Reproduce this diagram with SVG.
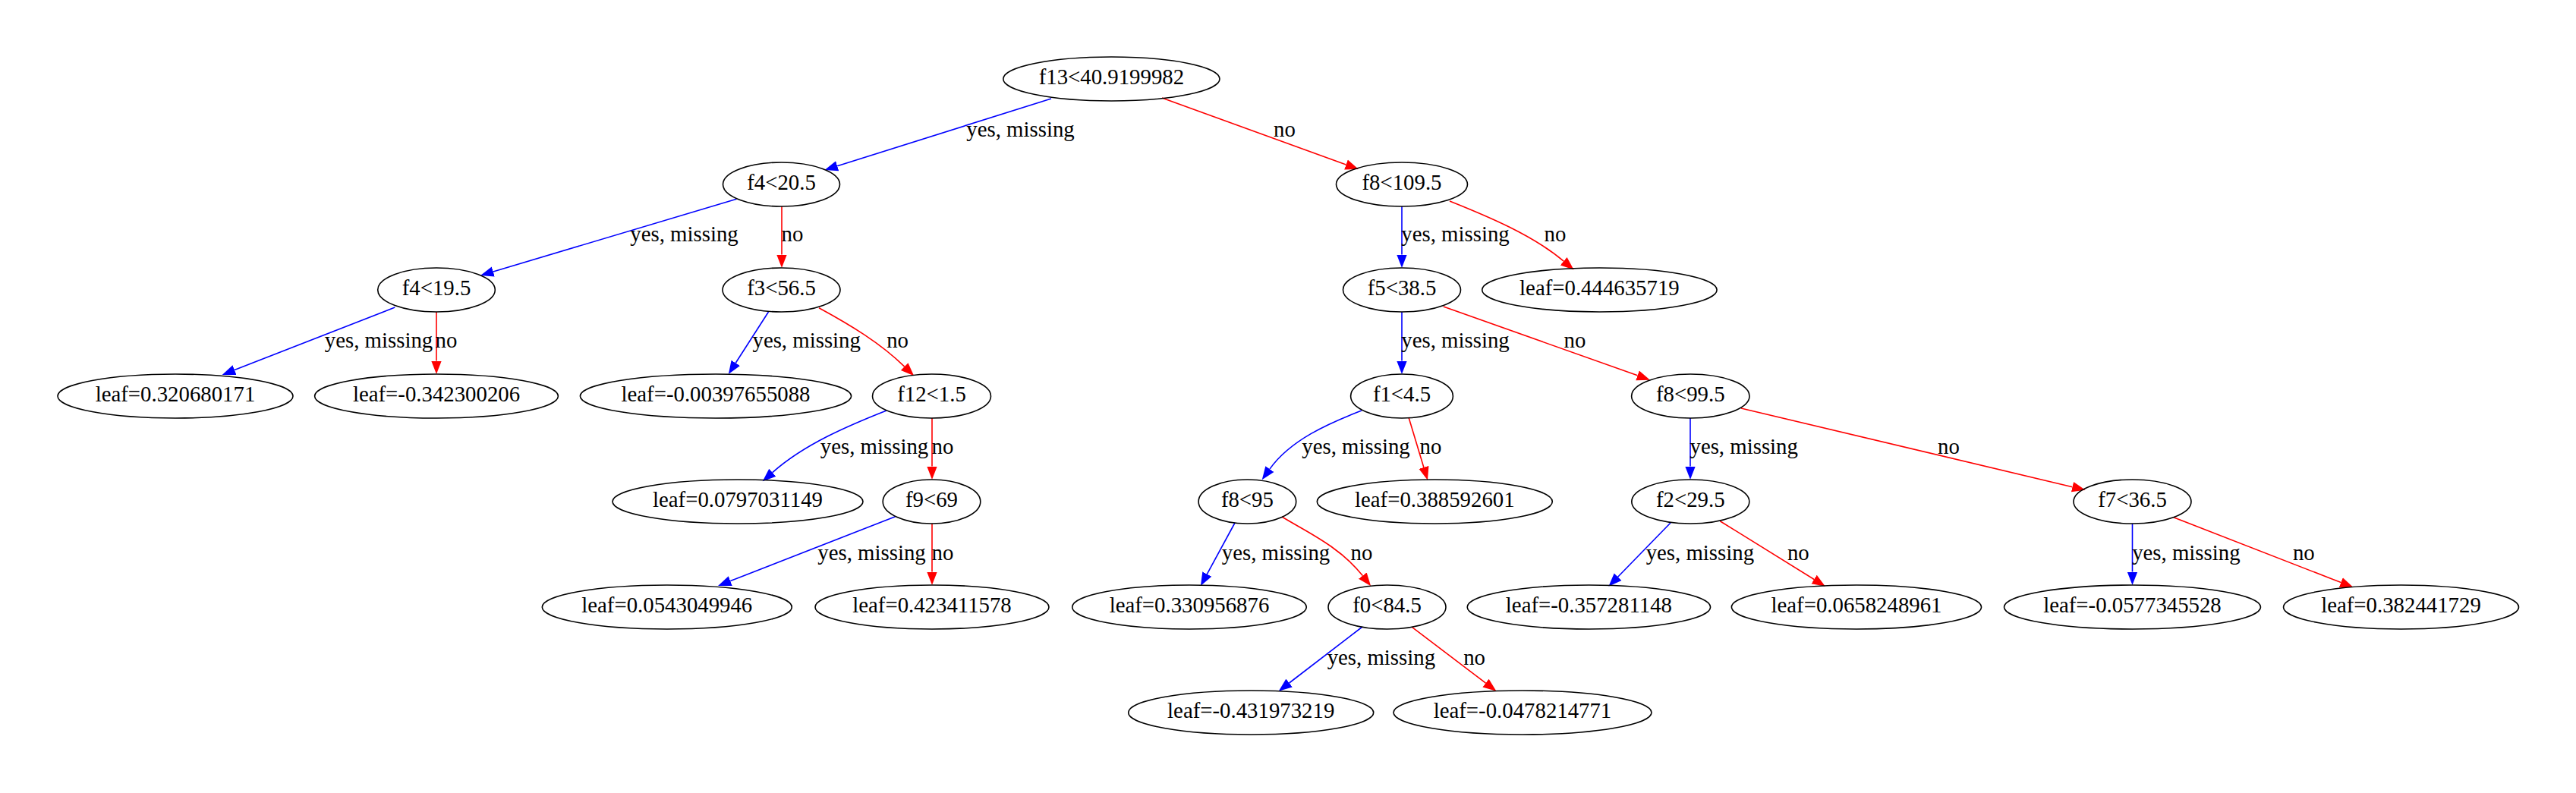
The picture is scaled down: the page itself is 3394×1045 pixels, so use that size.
<svg xmlns="http://www.w3.org/2000/svg" width="3394" height="1045" viewBox="0 0 3394 1045">
<style>
.node ellipse{fill:none;stroke:#000;stroke-width:1.6}
text{font-family:"Liberation Serif","Times New Roman",serif;font-size:28.8px;text-anchor:middle;fill:#000}
.edges path{fill:none;stroke-width:1.6}
.edges .y{stroke:#0000ff;marker-end:url(#ab)}
.edges .n{stroke:#ff0000;marker-end:url(#ar)}
</style>
<defs>
<marker id="ab" markerUnits="userSpaceOnUse" markerWidth="20" markerHeight="16" viewBox="0 -8 20 16" refX="0" refY="0" orient="auto"><path d="M0,-6.8 L17.5,0 L0,6.8 z" fill="#0000ff"/></marker>
<marker id="ar" markerUnits="userSpaceOnUse" markerWidth="20" markerHeight="16" viewBox="0 -8 20 16" refX="0" refY="0" orient="auto"><path d="M0,-6.8 L17.5,0 L0,6.8 z" fill="#ff0000"/></marker>
</defs>
<rect width="3394" height="1045" fill="#fff"/>
<g class="edges">
<path class="y" d="M1385,130 L1103.2,218.7"/>
<path class="n" d="M1531,129 L1773.5,217"/>
<path class="y" d="M970.5,262.3 L649.8,358"/>
<path class="n" d="M1030,272 L1030,335.5"/>
<path class="y" d="M1847,272 L1847,335.5"/>
<path class="n" d="M1910,265 C1960,285 2020,310 2060.2,344.2"/>
<path class="y" d="M520.3,405 L309,487.6"/>
<path class="n" d="M575,411 L575,475.5"/>
<path class="y" d="M1012.5,411 L969.3,478.3"/>
<path class="n" d="M1079,405.7 C1120,428 1160,452 1191.7,483.1"/>
<path class="y" d="M1847,411 L1847,475.5"/>
<path class="n" d="M1901.8,404 L2157.5,494.8"/>
<path class="y" d="M1168,541 C1120,560 1060,585 1017.8,622.7"/>
<path class="n" d="M1228,551 L1228,614.5"/>
<path class="y" d="M1794,541 C1750,558 1700,580 1672.9,618.1"/>
<path class="n" d="M1856,550 L1875.9,615.9"/>
<path class="y" d="M2227,551 L2227,614.5"/>
<path class="n" d="M2294,538 L2730.5,641.7"/>
<path class="y" d="M1179.6,680.7 L962.3,765.6"/>
<path class="n" d="M1228,690 L1228,753.5"/>
<path class="y" d="M1627,689 L1590.3,756.6"/>
<path class="n" d="M1689,681 C1720,700 1765,720 1795.3,758.6"/>
<path class="y" d="M2201,689 L2131.6,760.2"/>
<path class="n" d="M2266.3,686.7 L2390.1,763.5"/>
<path class="y" d="M2809.5,690 L2809.5,753.5"/>
<path class="n" d="M2863.8,681.7 L3084.3,767.6"/>
<path class="y" d="M1795,826 L1698.6,900"/>
<path class="n" d="M1860.7,826.7 L1957.5,900.1"/>
<text x="1344.5" y="180">yes, missing</text>
<text x="1692.5" y="180">no</text>
<text x="901.5" y="318">yes, missing</text>
<text x="1044" y="318">no</text>
<text x="1917.5" y="318">yes, missing</text>
<text x="2049" y="318">no</text>
<text x="499" y="458">yes, missing</text>
<text x="588" y="458">no</text>
<text x="1062.7" y="458">yes, missing</text>
<text x="1182.6" y="458">no</text>
<text x="1917.5" y="458">yes, missing</text>
<text x="2075" y="458">no</text>
<text x="1152" y="598">yes, missing</text>
<text x="1242" y="598">no</text>
<text x="1786.5" y="598">yes, missing</text>
<text x="1885" y="598">no</text>
<text x="2297.7" y="598">yes, missing</text>
<text x="2567.5" y="598">no</text>
<text x="1148.5" y="738">yes, missing</text>
<text x="1242" y="738">no</text>
<text x="1681" y="738">yes, missing</text>
<text x="1794" y="738">no</text>
<text x="2239.9" y="738">yes, missing</text>
<text x="2369.3" y="738">no</text>
<text x="2880.4" y="738">yes, missing</text>
<text x="3035.3" y="738">no</text>
<text x="1819.9" y="876">yes, missing</text>
<text x="1942.6" y="876">no</text>
</g>
<g id="n0" class="node"><ellipse cx="1464.4" cy="104" rx="142.6" ry="29"/><text x="1464.4" y="111">f13&lt;40.9199982</text></g>
<g id="n1" class="node"><ellipse cx="1029.5" cy="243" rx="77" ry="29"/><text x="1029.5" y="250">f4&lt;20.5</text></g>
<g id="n2" class="node"><ellipse cx="1847" cy="243" rx="86.5" ry="29"/><text x="1847" y="250">f8&lt;109.5</text></g>
<g id="n3" class="node"><ellipse cx="575" cy="382" rx="77.3" ry="29"/><text x="575" y="389">f4&lt;19.5</text></g>
<g id="n4" class="node"><ellipse cx="1029.5" cy="382" rx="77.5" ry="29"/><text x="1029.5" y="389">f3&lt;56.5</text></g>
<g id="n5" class="node"><ellipse cx="1847" cy="382" rx="77.5" ry="29"/><text x="1847" y="389">f5&lt;38.5</text></g>
<g id="n6" class="node"><ellipse cx="2107.4" cy="382" rx="154.7" ry="29"/><text x="2107.4" y="389">leaf=0.444635719</text></g>
<g id="n7" class="node"><ellipse cx="231" cy="522" rx="155" ry="29"/><text x="231" y="529">leaf=0.320680171</text></g>
<g id="n8" class="node"><ellipse cx="575" cy="522" rx="160.4" ry="29"/><text x="575" y="529">leaf=-0.342300206</text></g>
<g id="n9" class="node"><ellipse cx="943" cy="522" rx="178.6" ry="29"/><text x="943" y="529">leaf=-0.00397655088</text></g>
<g id="n10" class="node"><ellipse cx="1227.5" cy="522" rx="78" ry="29"/><text x="1227.5" y="529">f12&lt;1.5</text></g>
<g id="n11" class="node"><ellipse cx="1847" cy="522" rx="67.4" ry="29"/><text x="1847" y="529">f1&lt;4.5</text></g>
<g id="n12" class="node"><ellipse cx="2227.3" cy="522" rx="77.7" ry="29"/><text x="2227.3" y="529">f8&lt;99.5</text></g>
<g id="n13" class="node"><ellipse cx="972" cy="661" rx="165" ry="29"/><text x="972" y="668">leaf=0.0797031149</text></g>
<g id="n14" class="node"><ellipse cx="1227.5" cy="661" rx="64.3" ry="29"/><text x="1227.5" y="668">f9&lt;69</text></g>
<g id="n15" class="node"><ellipse cx="1643.4" cy="661" rx="64.3" ry="29"/><text x="1643.4" y="668">f8&lt;95</text></g>
<g id="n16" class="node"><ellipse cx="1890.3" cy="661" rx="155" ry="29"/><text x="1890.3" y="668">leaf=0.388592601</text></g>
<g id="n17" class="node"><ellipse cx="2227.3" cy="661" rx="77.5" ry="29"/><text x="2227.3" y="668">f2&lt;29.5</text></g>
<g id="n18" class="node"><ellipse cx="2809.5" cy="661" rx="77.5" ry="29"/><text x="2809.5" y="668">f7&lt;36.5</text></g>
<g id="n19" class="node"><ellipse cx="878.8" cy="800" rx="164.5" ry="29"/><text x="878.8" y="807">leaf=0.0543049946</text></g>
<g id="n20" class="node"><ellipse cx="1228" cy="800" rx="154" ry="29"/><text x="1228" y="807">leaf=0.423411578</text></g>
<g id="n21" class="node"><ellipse cx="1567" cy="800" rx="154.3" ry="29"/><text x="1567" y="807">leaf=0.330956876</text></g>
<g id="n22" class="node"><ellipse cx="1827.5" cy="800" rx="77.5" ry="29"/><text x="1827.5" y="807">f0&lt;84.5</text></g>
<g id="n23" class="node"><ellipse cx="2093.4" cy="800" rx="160.2" ry="29"/><text x="2093.4" y="807">leaf=-0.357281148</text></g>
<g id="n24" class="node"><ellipse cx="2446" cy="800" rx="164.6" ry="29"/><text x="2446" y="807">leaf=0.0658248961</text></g>
<g id="n25" class="node"><ellipse cx="2809.5" cy="800" rx="169" ry="29"/><text x="2809.5" y="807">leaf=-0.0577345528</text></g>
<g id="n26" class="node"><ellipse cx="3163.5" cy="800" rx="155" ry="29"/><text x="3163.5" y="807">leaf=0.382441729</text></g>
<g id="n27" class="node"><ellipse cx="1648.2" cy="939" rx="161.5" ry="29"/><text x="1648.2" y="946">leaf=-0.431973219</text></g>
<g id="n28" class="node"><ellipse cx="2006" cy="939" rx="170" ry="29"/><text x="2006" y="946">leaf=-0.0478214771</text></g>
</svg>
